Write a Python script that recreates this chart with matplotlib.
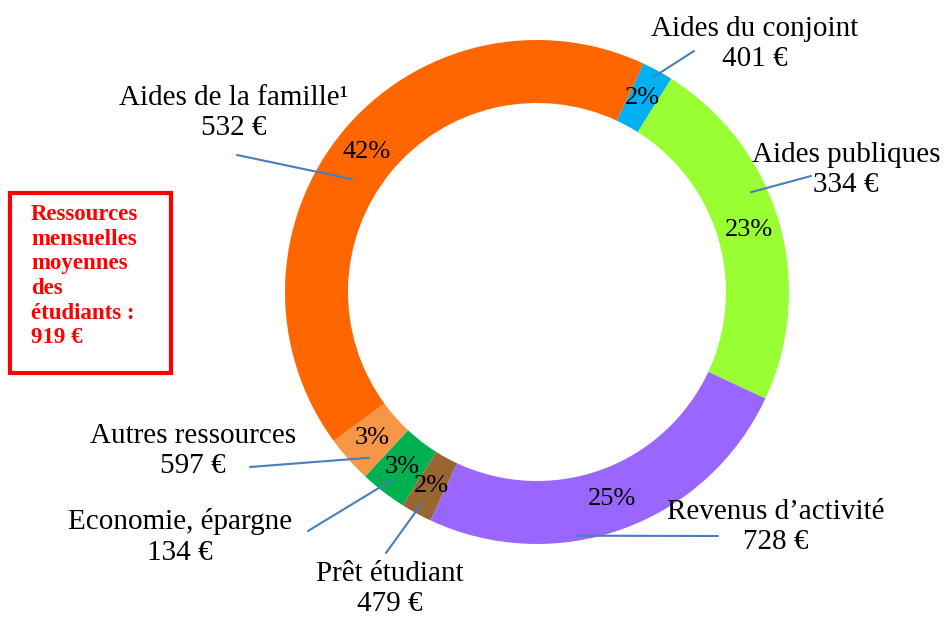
import numpy as np
import matplotlib
matplotlib.use("Agg")
import matplotlib.pyplot as plt
from matplotlib.patches import Rectangle

# ---- data ----
categories = ["Aides du conjoint", "Aides publiques", "Revenus d\u2019activit\u00e9",
              "Pr\u00eat \u00e9tudiant", "Economie, \u00e9pargne", "Autres ressources",
              "Aides de la famille\u00b9"]
shares = [2, 23, 25, 2, 3, 3, 42]
euros = ["401 \u20ac", "334 \u20ac", "728 \u20ac", "479 \u20ac", "134 \u20ac", "597 \u20ac", "532 \u20ac"]
colors = ["#00B0F0", "#99FF33", "#9966FF", "#996633", "#00B050", "#F79646", "#FF6600"]
box_text = "Ressources\nmensuelles\nmoyennes\ndes\n\u00e9tudiants :\n919 \u20ac"

# ---- layout (pixels, origin top-left) ----
W, H = 946, 619
cx, cy, R = 537, 292, 252
label_pos = [(755, 44), (846, 170), (776, 527), (390, 589), (180, 537), (193, 451), (234, 113)]
leader_start = [(694, 51), (811, 176), (718, 536), (386, 553), (308, 531), (250, 467), (237, 155)]
leader_off = [(0.0, 0.975), (8.6, 0.937), (-10.7, 0.98), (0.0, 0.956), (0.0, 0.94), (3.0, 0.937), (8.0, 0.859)]

FONT = "Liberation Serif"

fig = plt.figure(figsize=(W / 100, H / 100), dpi=100)
ax = fig.add_axes([(cx - R) / W, (H - cy - R) / H, 2 * R / W, 2 * R / H])
wedges, texts, autotexts = ax.pie(
    shares, colors=colors, startangle=65, counterclock=False, radius=1,
    wedgeprops=dict(width=0.25, edgecolor="none"),
    autopct="%.0f%%", pctdistance=0.875,
    textprops=dict(fontfamily=FONT, fontsize=19, color="black"))
ax.set_xlim(-1, 1)
ax.set_ylim(-1, 1)
ax.axis("off")

for i, w in enumerate(wedges):
    mid = 0.5 * (w.theta1 + w.theta2) + leader_off[i][0]
    r = leader_off[i][1]
    xy = (r * np.cos(np.radians(mid)), r * np.sin(np.radians(mid)))
    sx, sy = leader_start[i]
    ax.annotate("", xy=xy, xycoords="data", xytext=(sx, H - sy), textcoords="figure pixels",
                arrowprops=dict(arrowstyle="-", color="#4A7EBB", lw=1.5, shrinkA=0, shrinkB=0))
    lx, ly = label_pos[i]
    fig.text(lx / W, 1 - ly / H, categories[i] + "\n" + euros[i], ha="center", va="center",
             fontfamily=FONT, fontsize=21, linespacing=1.23, color="black")

# red box
fig.patches.append(Rectangle((10 / W, 1 - 373 / H), 161 / W, 180 / H, transform=fig.transFigure,
                             fill=False, edgecolor="#FF0000", lw=3))
fig.text(31 / W, 1 - 204 / H, box_text, ha="left", va="top", fontfamily=FONT,
         fontweight="bold", fontsize=16.5, linespacing=1.23, color="#FF0000")

fig.savefig("out.png", dpi=100)
